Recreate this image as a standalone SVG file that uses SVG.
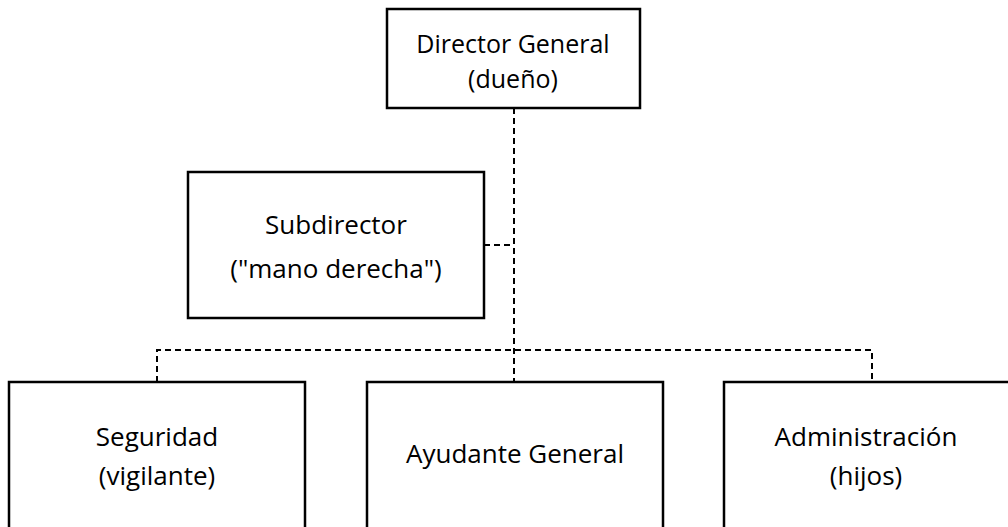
<svg xmlns="http://www.w3.org/2000/svg" width="1008" height="527" viewBox="0 0 1008 527">
<style>
.box{fill:#fff;stroke:#000;stroke-width:2.5}
.t{font-family:"Open Sans","Liberation Sans",sans-serif;font-size:26px;fill:#000;text-anchor:middle}
.s{font-size:25px}
.c{fill:none;stroke:#000;stroke-width:2;stroke-dasharray:6 4}
</style>
<rect width="1008" height="527" fill="#fff"/>
<g id="connectors">
<path class="c" d="M514 108V382"/>
<path class="c" d="M484 245H514"/>
<path class="c" d="M157 382V350H872V382"/>
</g>
<g id="director"><rect class="box" x="387" y="9" width="253" height="99"/>
<text class="t s" x="513" y="53">Director General</text><text class="t s" x="513" y="88">(dueño)</text></g>
<g id="subdirector"><rect class="box" x="188" y="172" width="296" height="146"/>
<text class="t" x="336" y="234">Subdirector</text><text class="t" x="336" y="278">("mano derecha")</text></g>
<g id="seguridad"><rect class="box" x="9" y="382" width="296" height="160"/>
<text class="t" x="157" y="446">Seguridad</text><text class="t" x="157" y="485">(vigilante)</text></g>
<g id="ayudante"><rect class="box" x="367" y="382" width="296" height="160"/>
<text class="t" x="515" y="463">Ayudante General</text></g>
<g id="administracion"><rect class="box" x="724" y="382" width="296" height="160"/>
<text class="t" x="866" y="446">Administración</text><text class="t" x="866" y="485">(hijos)</text></g>
</svg>
